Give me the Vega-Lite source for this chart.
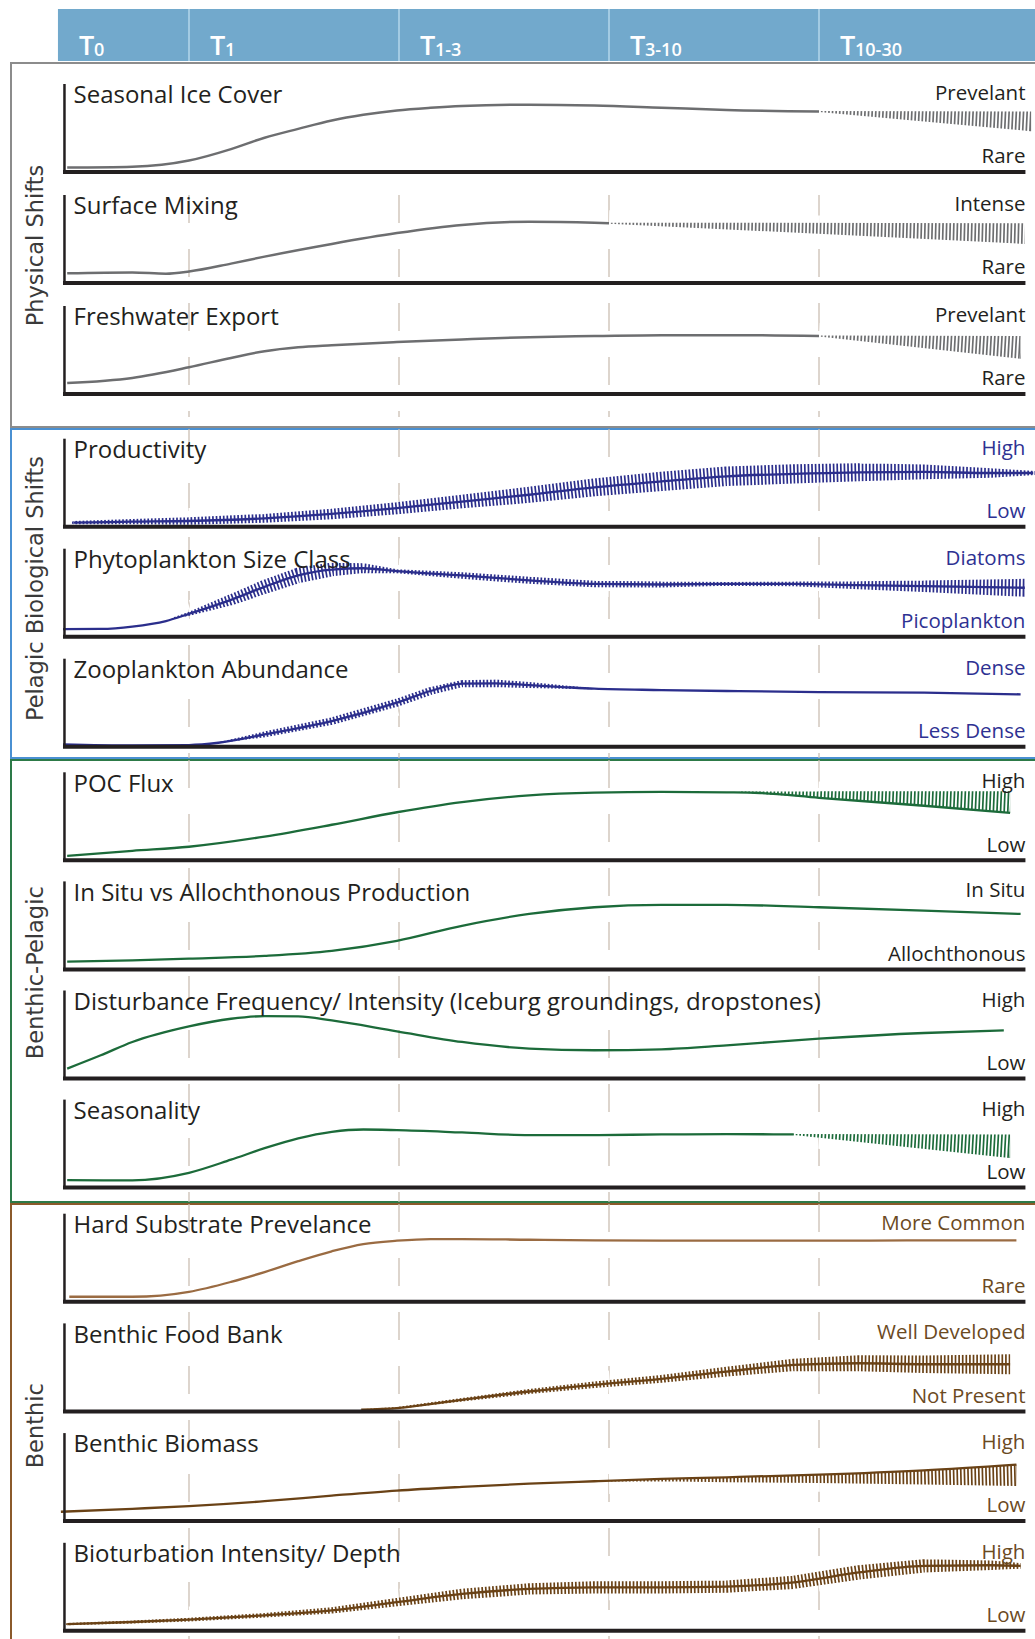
{
"$schema": "https://vega.github.io/schema/vega-lite/v6.json",
"padding": {"left": 10, "top": 8, "right": 0, "bottom": 0},
"background": "white",
"spacing": 2,
"bounds": "flush",
"config": {"view": {"stroke": null}, "font": "Open Sans"},
"resolve": {"scale": {"y": "independent"}},
"datasets": {
"periods": [{"p":"T","sub":"0","start":0.376,"end":1},{"p":"T","sub":"1","start":1,"end":2},{"p":"T","sub":"1-3","start":2,"end":3},{"p":"T","sub":"3-10","start":3,"end":4},{"p":"T","sub":"10-30","start":4,"end":5.06}],
"guides": [{"t":1},{"t":2},{"t":3},{"t":4}],
"labels": [
{"row":"ice","title":"Seasonal Ice Cover","hi":"Prevelant","lo":"Rare"},
{"row":"mix","title":"Surface Mixing","hi":"Intense","lo":"Rare"},
{"row":"fw","title":"Freshwater Export","hi":"Prevelant","lo":"Rare"},
{"row":"prod","title":"Productivity","hi":"High","lo":"Low"},
{"row":"phyto","title":"Phytoplankton Size Class","hi":"Diatoms","lo":"Picoplankton"},
{"row":"zoo","title":"Zooplankton Abundance","hi":"Dense","lo":"Less Dense"},
{"row":"poc","title":"POC Flux","hi":"High","lo":"Low"},
{"row":"insitu","title":"In Situ vs  Allochthonous Production","hi":"In Situ","lo":"Allochthonous"},
{"row":"dist","title":"Disturbance Frequency/ Intensity (Iceburg groundings, dropstones)","hi":"High","lo":"Low"},
{"row":"seas","title":"Seasonality","hi":"High","lo":"Low"},
{"row":"hard","title":"Hard Substrate Prevelance","hi":"More Common","lo":"Rare"},
{"row":"food","title":"Benthic Food Bank","hi":"Well Developed","lo":"Not Present"},
{"row":"biomass","title":"Benthic Biomass","hi":"High","lo":"Low"},
{"row":"biot","title":"Bioturbation Intensity/ Depth","hi":"High","lo":"Low"}
],
"sections": [
{"section":"Physical Shifts","row":"mix","v":0.426},
{"section":"Pelagic Biological Shifts","row":"phyto","v":0.548},
{"section":"Benthic-Pelagic","row":"insitu","v":-0.0375},
{"section":"Benthic","row":"food","v":-0.1625}
],
"frame": [
{"row":"ice","v":0},{"row":"ice","v":1},{"row":"mix","v":0},{"row":"mix","v":1},{"row":"fw","v":0},{"row":"fw","v":1},
{"row":"prod","v":0},{"row":"prod","v":1},{"row":"phyto","v":0},{"row":"phyto","v":1},{"row":"zoo","v":0},{"row":"zoo","v":1},
{"row":"poc","v":0},{"row":"poc","v":1},{"row":"insitu","v":0},{"row":"insitu","v":1},{"row":"dist","v":0},{"row":"dist","v":1},{"row":"seas","v":0},{"row":"seas","v":1},
{"row":"hard","v":0},{"row":"hard","v":1},{"row":"food","v":0},{"row":"food","v":1},{"row":"biomass","v":0},{"row":"biomass","v":1},{"row":"biot","v":0},{"row":"biot","v":1}
],
"curves": [
{"row":"ice","t":0.42,"v":0.05},{"row":"ice","t":0.73,"v":0.06},{"row":"ice","t":1.0,"v":0.13},{"row":"ice","t":1.2,"v":0.26},{"row":"ice","t":1.36,"v":0.39},{"row":"ice","t":1.52,"v":0.49},{"row":"ice","t":1.68,"v":0.585},{"row":"ice","t":1.83,"v":0.65},{"row":"ice","t":1.99,"v":0.70},{"row":"ice","t":2.15,"v":0.73},{"row":"ice","t":2.3,"v":0.75},{"row":"ice","t":2.62,"v":0.765},{"row":"ice","t":2.93,"v":0.755},{"row":"ice","t":3.25,"v":0.73},{"row":"ice","t":3.56,"v":0.705},{"row":"ice","t":4.0,"v":0.687},
{"row":"mix","t":0.42,"v":0.11},{"row":"mix","t":0.73,"v":0.12},{"row":"mix","t":0.89,"v":0.105},{"row":"mix","t":1.0,"v":0.13},{"row":"mix","t":1.2,"v":0.22},{"row":"mix","t":1.36,"v":0.30},{"row":"mix","t":1.68,"v":0.444},{"row":"mix","t":1.99,"v":0.567},{"row":"mix","t":2.3,"v":0.66},{"row":"mix","t":2.62,"v":0.696},{"row":"mix","t":2.93,"v":0.685},{"row":"mix","t":3.0,"v":0.68},
{"row":"fw","t":0.42,"v":0.125},{"row":"fw","t":0.73,"v":0.183},{"row":"fw","t":1.0,"v":0.304},{"row":"fw","t":1.2,"v":0.41},{"row":"fw","t":1.36,"v":0.487},{"row":"fw","t":1.52,"v":0.532},{"row":"fw","t":1.68,"v":0.555},{"row":"fw","t":1.99,"v":0.59},{"row":"fw","t":2.3,"v":0.62},{"row":"fw","t":2.62,"v":0.646},{"row":"fw","t":2.93,"v":0.658},{"row":"fw","t":3.25,"v":0.669},{"row":"fw","t":3.56,"v":0.669},{"row":"fw","t":4.0,"v":0.658},
{"row":"prod","t":0.45,"v":0.046},{"row":"prod","t":0.73,"v":0.057},{"row":"prod","t":1.0,"v":0.065},{"row":"prod","t":1.36,"v":0.095},{"row":"prod","t":1.68,"v":0.145},{"row":"prod","t":1.99,"v":0.21},{"row":"prod","t":2.3,"v":0.286},{"row":"prod","t":2.62,"v":0.363},{"row":"prod","t":2.93,"v":0.447},{"row":"prod","t":3.25,"v":0.515},{"row":"prod","t":3.56,"v":0.573},{"row":"prod","t":3.88,"v":0.60},{"row":"prod","t":4.19,"v":0.618},{"row":"prod","t":4.5,"v":0.622},{"row":"prod","t":4.82,"v":0.61},{"row":"prod","t":5.02,"v":0.61},
{"row":"phyto","t":0.40,"v":0.085},{"row":"phyto","t":0.58,"v":0.088},{"row":"phyto","t":0.73,"v":0.115},{"row":"phyto","t":0.89,"v":0.178},{"row":"phyto","t":1.0,"v":0.26},{"row":"phyto","t":1.2,"v":0.419},{"row":"phyto","t":1.36,"v":0.567},{"row":"phyto","t":1.52,"v":0.696},{"row":"phyto","t":1.68,"v":0.763},{"row":"phyto","t":1.83,"v":0.778},{"row":"phyto","t":1.99,"v":0.744},{"row":"phyto","t":2.3,"v":0.696},{"row":"phyto","t":2.62,"v":0.641},{"row":"phyto","t":2.93,"v":0.60},{"row":"phyto","t":3.25,"v":0.593},{"row":"phyto","t":3.56,"v":0.60},{"row":"phyto","t":3.88,"v":0.60},{"row":"phyto","t":4.19,"v":0.585},{"row":"phyto","t":4.5,"v":0.574},{"row":"phyto","t":4.98,"v":0.556},
{"row":"zoo","t":0.40,"v":0.027},{"row":"zoo","t":0.73,"v":0.015},{"row":"zoo","t":1.0,"v":0.019},{"row":"zoo","t":1.14,"v":0.045},{"row":"zoo","t":1.36,"v":0.14},{"row":"zoo","t":1.68,"v":0.29},{"row":"zoo","t":1.99,"v":0.5},{"row":"zoo","t":2.15,"v":0.633},{"row":"zoo","t":2.3,"v":0.716},{"row":"zoo","t":2.46,"v":0.72},{"row":"zoo","t":2.62,"v":0.70},{"row":"zoo","t":2.78,"v":0.678},{"row":"zoo","t":2.93,"v":0.659},{"row":"zoo","t":3.25,"v":0.644},{"row":"zoo","t":3.56,"v":0.633},{"row":"zoo","t":4.0,"v":0.621},{"row":"zoo","t":4.5,"v":0.614},{"row":"zoo","t":4.96,"v":0.595},
{"row":"poc","t":0.42,"v":0.05},{"row":"poc","t":0.73,"v":0.108},{"row":"poc","t":1.0,"v":0.154},{"row":"poc","t":1.36,"v":0.269},{"row":"poc","t":1.68,"v":0.404},{"row":"poc","t":1.99,"v":0.546},{"row":"poc","t":2.3,"v":0.662},{"row":"poc","t":2.62,"v":0.738},{"row":"poc","t":2.93,"v":0.769},{"row":"poc","t":3.25,"v":0.777},{"row":"poc","t":3.56,"v":0.772},{"row":"poc","t":3.72,"v":0.765},{"row":"poc","t":4.0,"v":0.71},{"row":"poc","t":4.5,"v":0.62},{"row":"poc","t":4.91,"v":0.538},
{"row":"insitu","t":0.42,"v":0.088},{"row":"insitu","t":0.73,"v":0.103},{"row":"insitu","t":1.0,"v":0.122},{"row":"insitu","t":1.36,"v":0.153},{"row":"insitu","t":1.68,"v":0.21},{"row":"insitu","t":1.99,"v":0.324},{"row":"insitu","t":2.3,"v":0.496},{"row":"insitu","t":2.62,"v":0.63},{"row":"insitu","t":2.93,"v":0.706},{"row":"insitu","t":3.25,"v":0.733},{"row":"insitu","t":3.56,"v":0.733},{"row":"insitu","t":4.0,"v":0.706},{"row":"insitu","t":4.5,"v":0.668},{"row":"insitu","t":4.96,"v":0.63},
{"row":"dist","t":0.42,"v":0.113},{"row":"dist","t":0.58,"v":0.264},{"row":"dist","t":0.73,"v":0.415},{"row":"dist","t":1.0,"v":0.592},{"row":"dist","t":1.2,"v":0.679},{"row":"dist","t":1.36,"v":0.709},{"row":"dist","t":1.52,"v":0.706},{"row":"dist","t":1.68,"v":0.66},{"row":"dist","t":1.99,"v":0.536},{"row":"dist","t":2.3,"v":0.415},{"row":"dist","t":2.62,"v":0.34},{"row":"dist","t":2.93,"v":0.321},{"row":"dist","t":3.25,"v":0.332},{"row":"dist","t":3.56,"v":0.377},{"row":"dist","t":4.0,"v":0.453},{"row":"dist","t":4.5,"v":0.517},{"row":"dist","t":4.88,"v":0.547},
{"row":"seas","t":0.42,"v":0.086},{"row":"seas","t":0.73,"v":0.082},{"row":"seas","t":1.0,"v":0.168},{"row":"seas","t":1.2,"v":0.317},{"row":"seas","t":1.36,"v":0.448},{"row":"seas","t":1.52,"v":0.56},{"row":"seas","t":1.68,"v":0.634},{"row":"seas","t":1.83,"v":0.66},{"row":"seas","t":1.99,"v":0.653},{"row":"seas","t":2.3,"v":0.627},{"row":"seas","t":2.62,"v":0.597},{"row":"seas","t":2.93,"v":0.597},{"row":"seas","t":3.25,"v":0.604},{"row":"seas","t":3.56,"v":0.608},{"row":"seas","t":3.88,"v":0.604},
{"row":"hard","t":0.43,"v":0.056},{"row":"hard","t":0.73,"v":0.056},{"row":"hard","t":1.0,"v":0.112},{"row":"hard","t":1.2,"v":0.225},{"row":"hard","t":1.36,"v":0.337},{"row":"hard","t":1.52,"v":0.461},{"row":"hard","t":1.68,"v":0.573},{"row":"hard","t":1.83,"v":0.655},{"row":"hard","t":1.99,"v":0.693},{"row":"hard","t":2.15,"v":0.712},{"row":"hard","t":2.3,"v":0.712},{"row":"hard","t":2.62,"v":0.704},{"row":"hard","t":2.93,"v":0.697},{"row":"hard","t":3.25,"v":0.693},{"row":"hard","t":3.56,"v":0.693},{"row":"hard","t":4.0,"v":0.693},{"row":"hard","t":4.5,"v":0.697},{"row":"hard","t":4.94,"v":0.697},
{"row":"food","t":1.82,"v":0.019},{"row":"food","t":1.99,"v":0.038},{"row":"food","t":2.3,"v":0.132},{"row":"food","t":2.62,"v":0.226},{"row":"food","t":2.93,"v":0.302},{"row":"food","t":3.25,"v":0.37},{"row":"food","t":3.56,"v":0.453},{"row":"food","t":3.88,"v":0.528},{"row":"food","t":4.19,"v":0.547},{"row":"food","t":4.5,"v":0.536},{"row":"food","t":4.91,"v":0.536},
{"row":"biomass","t":0.39,"v":0.106},{"row":"biomass","t":0.73,"v":0.14},{"row":"biomass","t":1.0,"v":0.17},{"row":"biomass","t":1.36,"v":0.226},{"row":"biomass","t":1.68,"v":0.29},{"row":"biomass","t":1.99,"v":0.347},{"row":"biomass","t":2.3,"v":0.389},{"row":"biomass","t":2.62,"v":0.426},{"row":"biomass","t":2.93,"v":0.453},{"row":"biomass","t":3.25,"v":0.479},{"row":"biomass","t":3.56,"v":0.498},{"row":"biomass","t":4.0,"v":0.528},{"row":"biomass","t":4.5,"v":0.577},{"row":"biomass","t":4.94,"v":0.642},
{"row":"biot","t":0.42,"v":0.075},{"row":"biot","t":0.73,"v":0.10},{"row":"biot","t":1.0,"v":0.127},{"row":"biot","t":1.36,"v":0.176},{"row":"biot","t":1.68,"v":0.232},{"row":"biot","t":1.99,"v":0.326},{"row":"biot","t":2.3,"v":0.419},{"row":"biot","t":2.62,"v":0.476},{"row":"biot","t":2.93,"v":0.494},{"row":"biot","t":3.25,"v":0.494},{"row":"biot","t":3.56,"v":0.502},{"row":"biot","t":3.88,"v":0.551},{"row":"biot","t":4.19,"v":0.663},{"row":"biot","t":4.5,"v":0.738},{"row":"biot","t":4.82,"v":0.745},{"row":"biot","t":4.96,"v":0.738}
],
"bands": [
{"row":"ice","t":4.0,"m":0.687,"w":0},{"row":"ice","t":5.01,"m":0.5755,"w":0.223},
{"row":"mix","t":3.0,"m":0.68,"w":0},{"row":"mix","t":4.98,"m":0.562,"w":0.236},
{"row":"fw","t":4.0,"m":0.658,"w":0},{"row":"fw","t":4.96,"m":0.529,"w":0.258},
{"row":"prod","t":0.45,"m":0.046,"w":0.035},{"row":"prod","t":0.73,"m":0.057,"w":0.06},{"row":"prod","t":1.0,"m":0.065,"w":0.083},{"row":"prod","t":1.36,"m":0.095,"w":0.1},{"row":"prod","t":1.68,"m":0.145,"w":0.12},{"row":"prod","t":1.99,"m":0.21,"w":0.138},{"row":"prod","t":2.3,"m":0.286,"w":0.156},{"row":"prod","t":2.62,"m":0.363,"w":0.184},{"row":"prod","t":2.93,"m":0.447,"w":0.204},{"row":"prod","t":3.25,"m":0.515,"w":0.22},{"row":"prod","t":3.56,"m":0.573,"w":0.222},{"row":"prod","t":3.88,"m":0.60,"w":0.22},{"row":"prod","t":4.19,"m":0.618,"w":0.204},{"row":"prod","t":4.5,"m":0.622,"w":0.168},{"row":"prod","t":4.82,"m":0.61,"w":0.108},{"row":"prod","t":5.03,"m":0.61,"w":0.045},
{"row":"phyto","t":0.92,"m":0.21,"w":0},{"row":"phyto","t":1.0,"m":0.26,"w":0.045},{"row":"phyto","t":1.2,"m":0.419,"w":0.125},{"row":"phyto","t":1.36,"m":0.567,"w":0.16},{"row":"phyto","t":1.52,"m":0.696,"w":0.175},{"row":"phyto","t":1.68,"m":0.763,"w":0.155},{"row":"phyto","t":1.83,"m":0.778,"w":0.111},{"row":"phyto","t":1.99,"m":0.744,"w":0.044},{"row":"phyto","t":2.3,"m":0.696,"w":0.074},{"row":"phyto","t":2.62,"m":0.641,"w":0.081},{"row":"phyto","t":2.93,"m":0.60,"w":0.074},{"row":"phyto","t":3.25,"m":0.593,"w":0.067},{"row":"phyto","t":3.56,"m":0.60,"w":0.044},{"row":"phyto","t":3.88,"m":0.60,"w":0.056},{"row":"phyto","t":4.19,"m":0.585,"w":0.093},{"row":"phyto","t":4.5,"m":0.574,"w":0.13},{"row":"phyto","t":4.98,"m":0.556,"w":0.204},
{"row":"zoo","t":1.14,"m":0.045,"w":0},{"row":"zoo","t":1.36,"m":0.14,"w":0.065},{"row":"zoo","t":1.68,"m":0.29,"w":0.085},{"row":"zoo","t":1.99,"m":0.5,"w":0.092},{"row":"zoo","t":2.15,"m":0.633,"w":0.09},{"row":"zoo","t":2.3,"m":0.716,"w":0.08},{"row":"zoo","t":2.46,"m":0.72,"w":0.085},{"row":"zoo","t":2.62,"m":0.70,"w":0.068},{"row":"zoo","t":2.78,"m":0.678,"w":0.038},{"row":"zoo","t":2.93,"m":0.659,"w":0},
{"row":"poc","t":3.62,"m":0.775,"w":0},{"row":"poc","t":4.0,"m":0.7475,"w":0.075},{"row":"poc","t":4.5,"m":0.7025,"w":0.165},{"row":"poc","t":4.91,"m":0.6615,"w":0.247},
{"row":"seas","t":3.88,"m":0.604,"w":0},{"row":"seas","t":4.91,"m":0.47,"w":0.268},
{"row":"food","t":1.82,"m":0.019,"w":0},{"row":"food","t":1.99,"m":0.038,"w":0.022},{"row":"food","t":2.3,"m":0.132,"w":0.042},{"row":"food","t":2.62,"m":0.226,"w":0.058},{"row":"food","t":2.93,"m":0.302,"w":0.075},{"row":"food","t":3.25,"m":0.37,"w":0.09},{"row":"food","t":3.56,"m":0.453,"w":0.112},{"row":"food","t":3.88,"m":0.528,"w":0.14},{"row":"food","t":4.19,"m":0.547,"w":0.18},{"row":"food","t":4.5,"m":0.536,"w":0.2},{"row":"food","t":4.91,"m":0.536,"w":0.226},
{"row":"biomass","t":3.0,"m":0.455,"w":0},{"row":"biomass","t":3.25,"m":0.4655,"w":0.027},{"row":"biomass","t":3.56,"m":0.47,"w":0.056},{"row":"biomass","t":4.0,"m":0.481,"w":0.094},{"row":"biomass","t":4.5,"m":0.496,"w":0.162},{"row":"biomass","t":4.94,"m":0.521,"w":0.242},
{"row":"biot","t":0.42,"m":0.075,"w":0.026},{"row":"biot","t":0.73,"m":0.10,"w":0.035},{"row":"biot","t":1.0,"m":0.127,"w":0.043},{"row":"biot","t":1.36,"m":0.176,"w":0.052},{"row":"biot","t":1.68,"m":0.232,"w":0.07},{"row":"biot","t":1.99,"m":0.326,"w":0.095},{"row":"biot","t":2.3,"m":0.419,"w":0.12},{"row":"biot","t":2.62,"m":0.476,"w":0.128},{"row":"biot","t":2.93,"m":0.494,"w":0.138},{"row":"biot","t":3.25,"m":0.494,"w":0.138},{"row":"biot","t":3.56,"m":0.502,"w":0.138},{"row":"biot","t":3.88,"m":0.551,"w":0.15},{"row":"biot","t":4.19,"m":0.663,"w":0.163},{"row":"biot","t":4.5,"m":0.738,"w":0.15},{"row":"biot","t":4.82,"m":0.745,"w":0.108},{"row":"biot","t":4.96,"m":0.738,"w":0.064}
]
},
"vconcat": [
{
"width": 1030, "height": 52,
"layer": [
{"data": {"name": "periods"}, "mark": {"type": "rect", "color": "#72a9cc"}, "encoding": {"x": {"field": "start", "type": "quantitative", "scale": {"domain": [0.1524, 5.0571], "nice": false, "zero": false}, "axis": null}, "x2": {"field": "end"}}},
{"data": {"name": "guides"}, "mark": {"type": "rule", "color": "#a3cbe3", "strokeWidth": 2}, "encoding": {"x": {"field": "t", "type": "quantitative", "scale": {"domain": [0.1524, 5.0571], "nice": false, "zero": false}, "axis": null}}},
{"data": {"name": "periods"}, "mark": {"type": "text", "align": "left", "baseline": "alphabetic", "dx": 21, "dy": 20, "fontSize": 27, "fontWeight": 600, "color": "white", "font": "Open Sans"}, "encoding": {"x": {"field": "start", "type": "quantitative", "scale": {"domain": [0.1524, 5.0571], "nice": false, "zero": false}, "axis": null}, "text": {"field": "p"}}},
{"data": {"name": "periods"}, "mark": {"type": "text", "align": "left", "baseline": "alphabetic", "dx": 36, "dy": 21, "fontSize": 18, "fontWeight": 600, "color": "white", "font": "Open Sans"}, "encoding": {"x": {"field": "start", "type": "quantitative", "scale": {"domain": [0.1524, 5.0571], "nice": false, "zero": false}, "axis": null}, "text": {"field": "sub"}}}
]
},
{
"width": 1030, "height": 364,
"view": {"stroke": "#8c8c8c", "strokeWidth": 2},
"layer": [
{"data": {"name": "guides"}, "mark": {"type": "rule", "color": "#cbbfb3", "strokeWidth": 1.3, "strokeDash": [28, 26]}, "encoding": {"x": {"field": "t", "type": "quantitative", "scale": {"domain": [0.1524, 5.0571], "nice": false, "zero": false}, "axis": null}, "y": {"datum": "mix", "type": "nominal", "bandPosition": 0, "scale": {"domain": ["ice","mix","fw"], "range": [21, 354], "paddingInner": 0, "paddingOuter": 0}, "axis": null}, "y2": {"datum": "fw", "bandPosition": 1}}},
{"data": {"name": "bands"}, "transform": [{"filter": {"field": "row", "oneOf": ["ice","mix","fw"]}}], "mark": {"type": "trail"}, "encoding": {"x": {"field": "t", "type": "quantitative", "scale": {"domain": [0.1524, 5.0571], "nice": false, "zero": false}, "axis": null}, "y": {"field": "row", "type": "nominal", "bandPosition": 0, "scale": {"domain": ["ice","mix","fw"], "range": [21, 354], "paddingInner": 0, "paddingOuter": 0}, "axis": null}, "yOffset": {"field": "m", "type": "quantitative", "scale": {"domain": [0, 1], "range": [88, 0]}}, "size": {"field": "w", "type": "quantitative", "scale": {"domain": [0, 1], "range": [0, 88]}, "legend": null}, "color": {"field": "row", "type": "nominal", "scale": {"domain": ["ice","mix","fw","prod","phyto","zoo","poc","insitu","dist","seas","hard","food","biomass","biot"], "range": ["#6d6e70","#6d6e70","#6d6e70","#2b2e8c","#2b2e8c","#2b2e8c","#1c6b3a","#1c6b3a","#1c6b3a","#1c6b3a","#9a6b42","#6a4216","#6a4216","#6a4216"]}, "legend": null}, "detail": {"field": "row"}, "order": {"field": "t", "type": "quantitative"}}},
{"data": {"name": "bands"}, "transform": [{"filter": {"field": "row", "oneOf": ["ice","mix","fw"]}}], "mark": {"type": "line", "color": "white", "strokeWidth": 26, "strokeDash": [1.9, 1.7], "strokeCap": "butt"}, "encoding": {"x": {"field": "t", "type": "quantitative", "scale": {"domain": [0.1524, 5.0571], "nice": false, "zero": false}, "axis": null}, "y": {"field": "row", "type": "nominal", "bandPosition": 0, "scale": {"domain": ["ice","mix","fw"], "range": [21, 354], "paddingInner": 0, "paddingOuter": 0}, "axis": null}, "yOffset": {"field": "m", "type": "quantitative", "scale": {"domain": [0, 1], "range": [88, 0]}}, "detail": {"field": "row"}, "order": {"field": "t", "type": "quantitative"}}},
{"data": {"name": "bands"}, "transform": [{"filter": {"field": "row", "oneOf": ["ice","mix","fw"]}}, {"joinaggregate": [{"op": "max", "field": "t", "as": "tmax"}], "groupby": ["row"]}, {"filter": "datum.t === datum.tmax"}], "mark": {"type": "point", "shape": "M0,-1H2V1H0Z", "size": 676, "filled": true, "color": "white", "opacity": 1, "strokeWidth": 0}, "encoding": {"x": {"field": "t", "type": "quantitative", "scale": {"domain": [0.1524, 5.0571], "nice": false, "zero": false}, "axis": null}, "y": {"field": "row", "type": "nominal", "bandPosition": 0, "scale": {"domain": ["ice","mix","fw"], "range": [21, 354], "paddingInner": 0, "paddingOuter": 0}, "axis": null}, "yOffset": {"field": "m", "type": "quantitative", "scale": {"domain": [0, 1], "range": [88, 0]}}}},
{"data": {"name": "curves"}, "transform": [{"filter": {"field": "row", "oneOf": ["ice","mix","fw"]}}], "mark": {"type": "line", "strokeWidth": 2.5, "interpolate": "monotone"}, "encoding": {"x": {"field": "t", "type": "quantitative", "scale": {"domain": [0.1524, 5.0571], "nice": false, "zero": false}, "axis": null}, "y": {"field": "row", "type": "nominal", "bandPosition": 0, "scale": {"domain": ["ice","mix","fw"], "range": [21, 354], "paddingInner": 0, "paddingOuter": 0}, "axis": null}, "yOffset": {"field": "v", "type": "quantitative", "scale": {"domain": [0, 1], "range": [88, 0]}}, "color": {"field": "row", "type": "nominal", "scale": {"domain": ["ice","mix","fw","prod","phyto","zoo","poc","insitu","dist","seas","hard","food","biomass","biot"], "range": ["#6d6e70","#6d6e70","#6d6e70","#2b2e8c","#2b2e8c","#2b2e8c","#1c6b3a","#1c6b3a","#1c6b3a","#1c6b3a","#9a6b42","#6a4216","#6a4216","#6a4216"]}, "legend": null}, "detail": {"field": "row"}, "order": {"field": "t", "type": "quantitative"}}},
{"data": {"name": "frame"}, "transform": [{"filter": {"field": "row", "oneOf": ["ice","mix","fw"]}}], "mark": {"type": "line", "color": "#231f20", "strokeWidth": 2.5}, "encoding": {"x": {"datum": 0.407, "type": "quantitative", "scale": {"domain": [0.1524, 5.0571], "nice": false, "zero": false}, "axis": null}, "y": {"field": "row", "type": "nominal", "bandPosition": 0, "scale": {"domain": ["ice","mix","fw"], "range": [21, 354], "paddingInner": 0, "paddingOuter": 0}, "axis": null}, "yOffset": {"field": "v", "type": "quantitative", "scale": {"domain": [0, 1], "range": [88, 0]}}, "detail": {"field": "row"}}},
{"data": {"name": "labels"}, "transform": [{"filter": {"field": "row", "oneOf": ["ice","mix","fw"]}}], "mark": {"type": "rule", "color": "#231f20", "strokeWidth": 4}, "encoding": {"x": {"datum": 0.40, "type": "quantitative", "scale": {"domain": [0.1524, 5.0571], "nice": false, "zero": false}, "axis": null}, "x2": {"datum": 4.983}, "y": {"field": "row", "type": "nominal", "bandPosition": 0, "scale": {"domain": ["ice","mix","fw"], "range": [21, 354], "paddingInner": 0, "paddingOuter": 0}, "axis": null}, "yOffset": {"datum": 0, "type": "quantitative", "scale": {"domain": [0, 1], "range": [88, 0]}}}},
{"data": {"name": "labels"}, "transform": [{"filter": {"field": "row", "oneOf": ["ice","mix","fw"]}}], "mark": {"type": "text", "align": "left", "baseline": "alphabetic", "fontSize": 24, "color": "#231f20"}, "encoding": {"x": {"datum": 0.45, "type": "quantitative", "scale": {"domain": [0.1524, 5.0571], "nice": false, "zero": false}, "axis": null}, "y": {"field": "row", "type": "nominal", "bandPosition": 0, "scale": {"domain": ["ice","mix","fw"], "range": [21, 354], "paddingInner": 0, "paddingOuter": 0}, "axis": null}, "yOffset": {"datum": 0.78, "type": "quantitative", "scale": {"domain": [0, 1], "range": [88, 0]}}, "text": {"field": "title"}}},
{"data": {"name": "labels"}, "transform": [{"filter": {"field": "row", "oneOf": ["ice","mix","fw"]}}], "mark": {"type": "text", "align": "right", "baseline": "alphabetic", "fontSize": 20.5, "color": "#231f20"}, "encoding": {"x": {"datum": 4.983, "type": "quantitative", "scale": {"domain": [0.1524, 5.0571], "nice": false, "zero": false}, "axis": null}, "y": {"field": "row", "type": "nominal", "bandPosition": 0, "scale": {"domain": ["ice","mix","fw"], "range": [21, 354], "paddingInner": 0, "paddingOuter": 0}, "axis": null}, "yOffset": {"datum": 0.818, "type": "quantitative", "scale": {"domain": [0, 1], "range": [88, 0]}}, "text": {"field": "hi"}}},
{"data": {"name": "labels"}, "transform": [{"filter": {"field": "row", "oneOf": ["ice","mix","fw"]}}], "mark": {"type": "text", "align": "right", "baseline": "alphabetic", "fontSize": 20.5, "color": "#231f20"}, "encoding": {"x": {"datum": 4.983, "type": "quantitative", "scale": {"domain": [0.1524, 5.0571], "nice": false, "zero": false}, "axis": null}, "y": {"field": "row", "type": "nominal", "bandPosition": 0, "scale": {"domain": ["ice","mix","fw"], "range": [21, 354], "paddingInner": 0, "paddingOuter": 0}, "axis": null}, "yOffset": {"datum": 0.10, "type": "quantitative", "scale": {"domain": [0, 1], "range": [88, 0]}}, "text": {"field": "lo"}}},
{"data": {"name": "sections"}, "transform": [{"filter": {"field": "row", "oneOf": ["ice","mix","fw"]}}], "mark": {"type": "text", "align": "center", "baseline": "middle", "angle": 270, "fontSize": 22.5, "font": "DejaVu Sans", "color": "#3a3a3a"}, "encoding": {"x": {"datum": 0.2714, "type": "quantitative", "scale": {"domain": [0.1524, 5.0571], "nice": false, "zero": false}, "axis": null}, "y": {"field": "row", "type": "nominal", "bandPosition": 0, "scale": {"domain": ["ice","mix","fw"], "range": [21, 354], "paddingInner": 0, "paddingOuter": 0}, "axis": null}, "yOffset": {"field": "v", "type": "quantitative", "scale": {"domain": [0, 1], "range": [88, 0]}}, "text": {"field": "section"}}}
]
},
{
"width": 1030, "height": 329,
"view": {"stroke": "#4a90d2", "strokeWidth": 2},
"layer": [
{"data": {"name": "guides"}, "mark": {"type": "rule", "color": "#cbbfb3", "strokeWidth": 1.3, "strokeDash": [28, 26]}, "encoding": {"x": {"field": "t", "type": "quantitative", "scale": {"domain": [0.1524, 5.0571], "nice": false, "zero": false}, "axis": null}}},
{"data": {"name": "bands"}, "transform": [{"filter": {"field": "row", "oneOf": ["prod","phyto","zoo"]}}], "mark": {"type": "trail"}, "encoding": {"x": {"field": "t", "type": "quantitative", "scale": {"domain": [0.1524, 5.0571], "nice": false, "zero": false}, "axis": null}, "y": {"field": "row", "type": "nominal", "bandPosition": 0, "scale": {"domain": ["prod","phyto","zoo"], "range": [9.7, 339.7], "paddingInner": 0, "paddingOuter": 0}, "axis": null}, "yOffset": {"field": "m", "type": "quantitative", "scale": {"domain": [0, 1], "range": [88, 0]}}, "size": {"field": "w", "type": "quantitative", "scale": {"domain": [0, 1], "range": [0, 88]}, "legend": null}, "color": {"field": "row", "type": "nominal", "scale": {"domain": ["ice","mix","fw","prod","phyto","zoo","poc","insitu","dist","seas","hard","food","biomass","biot"], "range": ["#6d6e70","#6d6e70","#6d6e70","#2b2e8c","#2b2e8c","#2b2e8c","#1c6b3a","#1c6b3a","#1c6b3a","#1c6b3a","#9a6b42","#6a4216","#6a4216","#6a4216"]}, "legend": null}, "detail": {"field": "row"}, "order": {"field": "t", "type": "quantitative"}}},
{"data": {"name": "bands"}, "transform": [{"filter": {"field": "row", "oneOf": ["prod","phyto","zoo"]}}], "mark": {"type": "line", "color": "white", "strokeWidth": 26, "strokeDash": [1.9, 1.7], "strokeCap": "butt"}, "encoding": {"x": {"field": "t", "type": "quantitative", "scale": {"domain": [0.1524, 5.0571], "nice": false, "zero": false}, "axis": null}, "y": {"field": "row", "type": "nominal", "bandPosition": 0, "scale": {"domain": ["prod","phyto","zoo"], "range": [9.7, 339.7], "paddingInner": 0, "paddingOuter": 0}, "axis": null}, "yOffset": {"field": "m", "type": "quantitative", "scale": {"domain": [0, 1], "range": [88, 0]}}, "detail": {"field": "row"}, "order": {"field": "t", "type": "quantitative"}}},
{"data": {"name": "bands"}, "transform": [{"filter": {"field": "row", "oneOf": ["prod","phyto","zoo"]}}, {"joinaggregate": [{"op": "max", "field": "t", "as": "tmax"}], "groupby": ["row"]}, {"filter": "datum.t === datum.tmax"}], "mark": {"type": "point", "shape": "M0,-1H2V1H0Z", "size": 676, "filled": true, "color": "white", "opacity": 1, "strokeWidth": 0}, "encoding": {"x": {"field": "t", "type": "quantitative", "scale": {"domain": [0.1524, 5.0571], "nice": false, "zero": false}, "axis": null}, "y": {"field": "row", "type": "nominal", "bandPosition": 0, "scale": {"domain": ["prod","phyto","zoo"], "range": [9.7, 339.7], "paddingInner": 0, "paddingOuter": 0}, "axis": null}, "yOffset": {"field": "m", "type": "quantitative", "scale": {"domain": [0, 1], "range": [88, 0]}}}},
{"data": {"name": "curves"}, "transform": [{"filter": {"field": "row", "oneOf": ["prod","phyto","zoo"]}}], "mark": {"type": "line", "strokeWidth": 2.3, "interpolate": "monotone"}, "encoding": {"x": {"field": "t", "type": "quantitative", "scale": {"domain": [0.1524, 5.0571], "nice": false, "zero": false}, "axis": null}, "y": {"field": "row", "type": "nominal", "bandPosition": 0, "scale": {"domain": ["prod","phyto","zoo"], "range": [9.7, 339.7], "paddingInner": 0, "paddingOuter": 0}, "axis": null}, "yOffset": {"field": "v", "type": "quantitative", "scale": {"domain": [0, 1], "range": [88, 0]}}, "color": {"field": "row", "type": "nominal", "scale": {"domain": ["ice","mix","fw","prod","phyto","zoo","poc","insitu","dist","seas","hard","food","biomass","biot"], "range": ["#6d6e70","#6d6e70","#6d6e70","#2b2e8c","#2b2e8c","#2b2e8c","#1c6b3a","#1c6b3a","#1c6b3a","#1c6b3a","#9a6b42","#6a4216","#6a4216","#6a4216"]}, "legend": null}, "detail": {"field": "row"}, "order": {"field": "t", "type": "quantitative"}}},
{"data": {"name": "frame"}, "transform": [{"filter": {"field": "row", "oneOf": ["prod","phyto","zoo"]}}], "mark": {"type": "line", "color": "#231f20", "strokeWidth": 2.5}, "encoding": {"x": {"datum": 0.407, "type": "quantitative", "scale": {"domain": [0.1524, 5.0571], "nice": false, "zero": false}, "axis": null}, "y": {"field": "row", "type": "nominal", "bandPosition": 0, "scale": {"domain": ["prod","phyto","zoo"], "range": [9.7, 339.7], "paddingInner": 0, "paddingOuter": 0}, "axis": null}, "yOffset": {"field": "v", "type": "quantitative", "scale": {"domain": [0, 1], "range": [88, 0]}}, "detail": {"field": "row"}}},
{"data": {"name": "labels"}, "transform": [{"filter": {"field": "row", "oneOf": ["prod","phyto","zoo"]}}], "mark": {"type": "rule", "color": "#231f20", "strokeWidth": 4}, "encoding": {"x": {"datum": 0.40, "type": "quantitative", "scale": {"domain": [0.1524, 5.0571], "nice": false, "zero": false}, "axis": null}, "x2": {"datum": 4.983}, "y": {"field": "row", "type": "nominal", "bandPosition": 0, "scale": {"domain": ["prod","phyto","zoo"], "range": [9.7, 339.7], "paddingInner": 0, "paddingOuter": 0}, "axis": null}, "yOffset": {"datum": 0, "type": "quantitative", "scale": {"domain": [0, 1], "range": [88, 0]}}}},
{"data": {"name": "labels"}, "transform": [{"filter": {"field": "row", "oneOf": ["prod","phyto","zoo"]}}], "mark": {"type": "text", "align": "left", "baseline": "alphabetic", "fontSize": 24, "color": "#231f20"}, "encoding": {"x": {"datum": 0.45, "type": "quantitative", "scale": {"domain": [0.1524, 5.0571], "nice": false, "zero": false}, "axis": null}, "y": {"field": "row", "type": "nominal", "bandPosition": 0, "scale": {"domain": ["prod","phyto","zoo"], "range": [9.7, 339.7], "paddingInner": 0, "paddingOuter": 0}, "axis": null}, "yOffset": {"datum": 0.78, "type": "quantitative", "scale": {"domain": [0, 1], "range": [88, 0]}}, "text": {"field": "title"}}},
{"data": {"name": "labels"}, "transform": [{"filter": {"field": "row", "oneOf": ["prod","phyto","zoo"]}}], "mark": {"type": "text", "align": "right", "baseline": "alphabetic", "fontSize": 20.5, "color": "#2e3192"}, "encoding": {"x": {"datum": 4.983, "type": "quantitative", "scale": {"domain": [0.1524, 5.0571], "nice": false, "zero": false}, "axis": null}, "y": {"field": "row", "type": "nominal", "bandPosition": 0, "scale": {"domain": ["prod","phyto","zoo"], "range": [9.7, 339.7], "paddingInner": 0, "paddingOuter": 0}, "axis": null}, "yOffset": {"datum": 0.818, "type": "quantitative", "scale": {"domain": [0, 1], "range": [88, 0]}}, "text": {"field": "hi"}}},
{"data": {"name": "labels"}, "transform": [{"filter": {"field": "row", "oneOf": ["prod","phyto","zoo"]}}], "mark": {"type": "text", "align": "right", "baseline": "alphabetic", "fontSize": 20.5, "color": "#2e3192"}, "encoding": {"x": {"datum": 4.983, "type": "quantitative", "scale": {"domain": [0.1524, 5.0571], "nice": false, "zero": false}, "axis": null}, "y": {"field": "row", "type": "nominal", "bandPosition": 0, "scale": {"domain": ["prod","phyto","zoo"], "range": [9.7, 339.7], "paddingInner": 0, "paddingOuter": 0}, "axis": null}, "yOffset": {"datum": 0.10, "type": "quantitative", "scale": {"domain": [0, 1], "range": [88, 0]}}, "text": {"field": "lo"}}},
{"data": {"name": "sections"}, "transform": [{"filter": {"field": "row", "oneOf": ["prod","phyto","zoo"]}}], "mark": {"type": "text", "align": "center", "baseline": "middle", "angle": 270, "fontSize": 22.5, "font": "DejaVu Sans", "color": "#3a3a3a"}, "encoding": {"x": {"datum": 0.2714, "type": "quantitative", "scale": {"domain": [0.1524, 5.0571], "nice": false, "zero": false}, "axis": null}, "y": {"field": "row", "type": "nominal", "bandPosition": 0, "scale": {"domain": ["prod","phyto","zoo"], "range": [9.7, 339.7], "paddingInner": 0, "paddingOuter": 0}, "axis": null}, "yOffset": {"field": "v", "type": "quantitative", "scale": {"domain": [0, 1], "range": [88, 0]}}, "text": {"field": "section"}}}
]
},
{
"width": 1030, "height": 442,
"view": {"stroke": "#2d7a48", "strokeWidth": 2},
"layer": [
{"data": {"name": "guides"}, "mark": {"type": "rule", "color": "#cbbfb3", "strokeWidth": 1.3, "strokeDash": [28, 26]}, "encoding": {"x": {"field": "t", "type": "quantitative", "scale": {"domain": [0.1524, 5.0571], "nice": false, "zero": false}, "axis": null}}},
{"data": {"name": "bands"}, "transform": [{"filter": {"field": "row", "oneOf": ["poc","insitu","dist","seas"]}}], "mark": {"type": "trail"}, "encoding": {"x": {"field": "t", "type": "quantitative", "scale": {"domain": [0.1524, 5.0571], "nice": false, "zero": false}, "axis": null}, "y": {"field": "row", "type": "nominal", "bandPosition": 0, "scale": {"domain": ["poc","insitu","dist","seas"], "range": [12.3, 448.7], "paddingInner": 0, "paddingOuter": 0}, "axis": null}, "yOffset": {"field": "m", "type": "quantitative", "scale": {"domain": [0, 1], "range": [88, 0]}}, "size": {"field": "w", "type": "quantitative", "scale": {"domain": [0, 1], "range": [0, 88]}, "legend": null}, "color": {"field": "row", "type": "nominal", "scale": {"domain": ["ice","mix","fw","prod","phyto","zoo","poc","insitu","dist","seas","hard","food","biomass","biot"], "range": ["#6d6e70","#6d6e70","#6d6e70","#2b2e8c","#2b2e8c","#2b2e8c","#1c6b3a","#1c6b3a","#1c6b3a","#1c6b3a","#9a6b42","#6a4216","#6a4216","#6a4216"]}, "legend": null}, "detail": {"field": "row"}, "order": {"field": "t", "type": "quantitative"}}},
{"data": {"name": "bands"}, "transform": [{"filter": {"field": "row", "oneOf": ["poc","insitu","dist","seas"]}}], "mark": {"type": "line", "color": "white", "strokeWidth": 26, "strokeDash": [1.9, 1.7], "strokeCap": "butt"}, "encoding": {"x": {"field": "t", "type": "quantitative", "scale": {"domain": [0.1524, 5.0571], "nice": false, "zero": false}, "axis": null}, "y": {"field": "row", "type": "nominal", "bandPosition": 0, "scale": {"domain": ["poc","insitu","dist","seas"], "range": [12.3, 448.7], "paddingInner": 0, "paddingOuter": 0}, "axis": null}, "yOffset": {"field": "m", "type": "quantitative", "scale": {"domain": [0, 1], "range": [88, 0]}}, "detail": {"field": "row"}, "order": {"field": "t", "type": "quantitative"}}},
{"data": {"name": "bands"}, "transform": [{"filter": {"field": "row", "oneOf": ["poc","insitu","dist","seas"]}}, {"joinaggregate": [{"op": "max", "field": "t", "as": "tmax"}], "groupby": ["row"]}, {"filter": "datum.t === datum.tmax"}], "mark": {"type": "point", "shape": "M0,-1H2V1H0Z", "size": 676, "filled": true, "color": "white", "opacity": 1, "strokeWidth": 0}, "encoding": {"x": {"field": "t", "type": "quantitative", "scale": {"domain": [0.1524, 5.0571], "nice": false, "zero": false}, "axis": null}, "y": {"field": "row", "type": "nominal", "bandPosition": 0, "scale": {"domain": ["poc","insitu","dist","seas"], "range": [12.3, 448.7], "paddingInner": 0, "paddingOuter": 0}, "axis": null}, "yOffset": {"field": "m", "type": "quantitative", "scale": {"domain": [0, 1], "range": [88, 0]}}}},
{"data": {"name": "curves"}, "transform": [{"filter": {"field": "row", "oneOf": ["poc","insitu","dist","seas"]}}], "mark": {"type": "line", "strokeWidth": 2.3, "interpolate": "monotone"}, "encoding": {"x": {"field": "t", "type": "quantitative", "scale": {"domain": [0.1524, 5.0571], "nice": false, "zero": false}, "axis": null}, "y": {"field": "row", "type": "nominal", "bandPosition": 0, "scale": {"domain": ["poc","insitu","dist","seas"], "range": [12.3, 448.7], "paddingInner": 0, "paddingOuter": 0}, "axis": null}, "yOffset": {"field": "v", "type": "quantitative", "scale": {"domain": [0, 1], "range": [88, 0]}}, "color": {"field": "row", "type": "nominal", "scale": {"domain": ["ice","mix","fw","prod","phyto","zoo","poc","insitu","dist","seas","hard","food","biomass","biot"], "range": ["#6d6e70","#6d6e70","#6d6e70","#2b2e8c","#2b2e8c","#2b2e8c","#1c6b3a","#1c6b3a","#1c6b3a","#1c6b3a","#9a6b42","#6a4216","#6a4216","#6a4216"]}, "legend": null}, "detail": {"field": "row"}, "order": {"field": "t", "type": "quantitative"}}},
{"data": {"name": "frame"}, "transform": [{"filter": {"field": "row", "oneOf": ["poc","insitu","dist","seas"]}}], "mark": {"type": "line", "color": "#231f20", "strokeWidth": 2.5}, "encoding": {"x": {"datum": 0.407, "type": "quantitative", "scale": {"domain": [0.1524, 5.0571], "nice": false, "zero": false}, "axis": null}, "y": {"field": "row", "type": "nominal", "bandPosition": 0, "scale": {"domain": ["poc","insitu","dist","seas"], "range": [12.3, 448.7], "paddingInner": 0, "paddingOuter": 0}, "axis": null}, "yOffset": {"field": "v", "type": "quantitative", "scale": {"domain": [0, 1], "range": [88, 0]}}, "detail": {"field": "row"}}},
{"data": {"name": "labels"}, "transform": [{"filter": {"field": "row", "oneOf": ["poc","insitu","dist","seas"]}}], "mark": {"type": "rule", "color": "#231f20", "strokeWidth": 4}, "encoding": {"x": {"datum": 0.40, "type": "quantitative", "scale": {"domain": [0.1524, 5.0571], "nice": false, "zero": false}, "axis": null}, "x2": {"datum": 4.983}, "y": {"field": "row", "type": "nominal", "bandPosition": 0, "scale": {"domain": ["poc","insitu","dist","seas"], "range": [12.3, 448.7], "paddingInner": 0, "paddingOuter": 0}, "axis": null}, "yOffset": {"datum": 0, "type": "quantitative", "scale": {"domain": [0, 1], "range": [88, 0]}}}},
{"data": {"name": "labels"}, "transform": [{"filter": {"field": "row", "oneOf": ["poc","insitu","dist","seas"]}}], "mark": {"type": "text", "align": "left", "baseline": "alphabetic", "fontSize": 24, "color": "#231f20"}, "encoding": {"x": {"datum": 0.45, "type": "quantitative", "scale": {"domain": [0.1524, 5.0571], "nice": false, "zero": false}, "axis": null}, "y": {"field": "row", "type": "nominal", "bandPosition": 0, "scale": {"domain": ["poc","insitu","dist","seas"], "range": [12.3, 448.7], "paddingInner": 0, "paddingOuter": 0}, "axis": null}, "yOffset": {"datum": 0.78, "type": "quantitative", "scale": {"domain": [0, 1], "range": [88, 0]}}, "text": {"field": "title"}}},
{"data": {"name": "labels"}, "transform": [{"filter": {"field": "row", "oneOf": ["poc","insitu","dist","seas"]}}], "mark": {"type": "text", "align": "right", "baseline": "alphabetic", "fontSize": 20.5, "color": "#231f20"}, "encoding": {"x": {"datum": 4.983, "type": "quantitative", "scale": {"domain": [0.1524, 5.0571], "nice": false, "zero": false}, "axis": null}, "y": {"field": "row", "type": "nominal", "bandPosition": 0, "scale": {"domain": ["poc","insitu","dist","seas"], "range": [12.3, 448.7], "paddingInner": 0, "paddingOuter": 0}, "axis": null}, "yOffset": {"datum": 0.818, "type": "quantitative", "scale": {"domain": [0, 1], "range": [88, 0]}}, "text": {"field": "hi"}}},
{"data": {"name": "labels"}, "transform": [{"filter": {"field": "row", "oneOf": ["poc","insitu","dist","seas"]}}], "mark": {"type": "text", "align": "right", "baseline": "alphabetic", "fontSize": 20.5, "color": "#231f20"}, "encoding": {"x": {"datum": 4.983, "type": "quantitative", "scale": {"domain": [0.1524, 5.0571], "nice": false, "zero": false}, "axis": null}, "y": {"field": "row", "type": "nominal", "bandPosition": 0, "scale": {"domain": ["poc","insitu","dist","seas"], "range": [12.3, 448.7], "paddingInner": 0, "paddingOuter": 0}, "axis": null}, "yOffset": {"datum": 0.10, "type": "quantitative", "scale": {"domain": [0, 1], "range": [88, 0]}}, "text": {"field": "lo"}}},
{"data": {"name": "sections"}, "transform": [{"filter": {"field": "row", "oneOf": ["poc","insitu","dist","seas"]}}], "mark": {"type": "text", "align": "center", "baseline": "middle", "angle": 270, "fontSize": 22.5, "font": "DejaVu Sans", "color": "#3a3a3a"}, "encoding": {"x": {"datum": 0.2714, "type": "quantitative", "scale": {"domain": [0.1524, 5.0571], "nice": false, "zero": false}, "axis": null}, "y": {"field": "row", "type": "nominal", "bandPosition": 0, "scale": {"domain": ["poc","insitu","dist","seas"], "range": [12.3, 448.7], "paddingInner": 0, "paddingOuter": 0}, "axis": null}, "yOffset": {"field": "v", "type": "quantitative", "scale": {"domain": [0, 1], "range": [88, 0]}}, "text": {"field": "section"}}}
]
},
{
"width": 1030, "height": 460,
"view": {"stroke": "#8b5a2b", "strokeWidth": 2},
"layer": [
{"data": {"name": "guides"}, "mark": {"type": "rule", "color": "#cbbfb3", "strokeWidth": 1.3, "strokeDash": [28, 26]}, "encoding": {"x": {"field": "t", "type": "quantitative", "scale": {"domain": [0.1524, 5.0571], "nice": false, "zero": false}, "axis": null}}},
{"data": {"name": "bands"}, "transform": [{"filter": {"field": "row", "oneOf": ["hard","food","biomass","biot"]}}], "mark": {"type": "trail"}, "encoding": {"x": {"field": "t", "type": "quantitative", "scale": {"domain": [0.1524, 5.0571], "nice": false, "zero": false}, "axis": null}, "y": {"field": "row", "type": "nominal", "bandPosition": 0, "scale": {"domain": ["hard","food","biomass","biot"], "range": [9.7, 448.5], "paddingInner": 0, "paddingOuter": 0}, "axis": null}, "yOffset": {"field": "m", "type": "quantitative", "scale": {"domain": [0, 1], "range": [88, 0]}}, "size": {"field": "w", "type": "quantitative", "scale": {"domain": [0, 1], "range": [0, 88]}, "legend": null}, "color": {"field": "row", "type": "nominal", "scale": {"domain": ["ice","mix","fw","prod","phyto","zoo","poc","insitu","dist","seas","hard","food","biomass","biot"], "range": ["#6d6e70","#6d6e70","#6d6e70","#2b2e8c","#2b2e8c","#2b2e8c","#1c6b3a","#1c6b3a","#1c6b3a","#1c6b3a","#9a6b42","#6a4216","#6a4216","#6a4216"]}, "legend": null}, "detail": {"field": "row"}, "order": {"field": "t", "type": "quantitative"}}},
{"data": {"name": "bands"}, "transform": [{"filter": {"field": "row", "oneOf": ["hard","food","biomass","biot"]}}], "mark": {"type": "line", "color": "white", "strokeWidth": 26, "strokeDash": [1.9, 1.7], "strokeCap": "butt"}, "encoding": {"x": {"field": "t", "type": "quantitative", "scale": {"domain": [0.1524, 5.0571], "nice": false, "zero": false}, "axis": null}, "y": {"field": "row", "type": "nominal", "bandPosition": 0, "scale": {"domain": ["hard","food","biomass","biot"], "range": [9.7, 448.5], "paddingInner": 0, "paddingOuter": 0}, "axis": null}, "yOffset": {"field": "m", "type": "quantitative", "scale": {"domain": [0, 1], "range": [88, 0]}}, "detail": {"field": "row"}, "order": {"field": "t", "type": "quantitative"}}},
{"data": {"name": "bands"}, "transform": [{"filter": {"field": "row", "oneOf": ["hard","food","biomass","biot"]}}, {"joinaggregate": [{"op": "max", "field": "t", "as": "tmax"}], "groupby": ["row"]}, {"filter": "datum.t === datum.tmax"}], "mark": {"type": "point", "shape": "M0,-1H2V1H0Z", "size": 676, "filled": true, "color": "white", "opacity": 1, "strokeWidth": 0}, "encoding": {"x": {"field": "t", "type": "quantitative", "scale": {"domain": [0.1524, 5.0571], "nice": false, "zero": false}, "axis": null}, "y": {"field": "row", "type": "nominal", "bandPosition": 0, "scale": {"domain": ["hard","food","biomass","biot"], "range": [9.7, 448.5], "paddingInner": 0, "paddingOuter": 0}, "axis": null}, "yOffset": {"field": "m", "type": "quantitative", "scale": {"domain": [0, 1], "range": [88, 0]}}}},
{"data": {"name": "curves"}, "transform": [{"filter": {"field": "row", "oneOf": ["hard","food","biomass","biot"]}}], "mark": {"type": "line", "strokeWidth": 2.3, "interpolate": "monotone"}, "encoding": {"x": {"field": "t", "type": "quantitative", "scale": {"domain": [0.1524, 5.0571], "nice": false, "zero": false}, "axis": null}, "y": {"field": "row", "type": "nominal", "bandPosition": 0, "scale": {"domain": ["hard","food","biomass","biot"], "range": [9.7, 448.5], "paddingInner": 0, "paddingOuter": 0}, "axis": null}, "yOffset": {"field": "v", "type": "quantitative", "scale": {"domain": [0, 1], "range": [88, 0]}}, "color": {"field": "row", "type": "nominal", "scale": {"domain": ["ice","mix","fw","prod","phyto","zoo","poc","insitu","dist","seas","hard","food","biomass","biot"], "range": ["#6d6e70","#6d6e70","#6d6e70","#2b2e8c","#2b2e8c","#2b2e8c","#1c6b3a","#1c6b3a","#1c6b3a","#1c6b3a","#9a6b42","#6a4216","#6a4216","#6a4216"]}, "legend": null}, "detail": {"field": "row"}, "order": {"field": "t", "type": "quantitative"}}},
{"data": {"name": "frame"}, "transform": [{"filter": {"field": "row", "oneOf": ["hard","food","biomass","biot"]}}], "mark": {"type": "line", "color": "#231f20", "strokeWidth": 2.5}, "encoding": {"x": {"datum": 0.407, "type": "quantitative", "scale": {"domain": [0.1524, 5.0571], "nice": false, "zero": false}, "axis": null}, "y": {"field": "row", "type": "nominal", "bandPosition": 0, "scale": {"domain": ["hard","food","biomass","biot"], "range": [9.7, 448.5], "paddingInner": 0, "paddingOuter": 0}, "axis": null}, "yOffset": {"field": "v", "type": "quantitative", "scale": {"domain": [0, 1], "range": [88, 0]}}, "detail": {"field": "row"}}},
{"data": {"name": "labels"}, "transform": [{"filter": {"field": "row", "oneOf": ["hard","food","biomass","biot"]}}], "mark": {"type": "rule", "color": "#231f20", "strokeWidth": 4}, "encoding": {"x": {"datum": 0.40, "type": "quantitative", "scale": {"domain": [0.1524, 5.0571], "nice": false, "zero": false}, "axis": null}, "x2": {"datum": 4.983}, "y": {"field": "row", "type": "nominal", "bandPosition": 0, "scale": {"domain": ["hard","food","biomass","biot"], "range": [9.7, 448.5], "paddingInner": 0, "paddingOuter": 0}, "axis": null}, "yOffset": {"datum": 0, "type": "quantitative", "scale": {"domain": [0, 1], "range": [88, 0]}}}},
{"data": {"name": "labels"}, "transform": [{"filter": {"field": "row", "oneOf": ["hard","food","biomass","biot"]}}], "mark": {"type": "text", "align": "left", "baseline": "alphabetic", "fontSize": 24, "color": "#231f20"}, "encoding": {"x": {"datum": 0.45, "type": "quantitative", "scale": {"domain": [0.1524, 5.0571], "nice": false, "zero": false}, "axis": null}, "y": {"field": "row", "type": "nominal", "bandPosition": 0, "scale": {"domain": ["hard","food","biomass","biot"], "range": [9.7, 448.5], "paddingInner": 0, "paddingOuter": 0}, "axis": null}, "yOffset": {"datum": 0.78, "type": "quantitative", "scale": {"domain": [0, 1], "range": [88, 0]}}, "text": {"field": "title"}}},
{"data": {"name": "labels"}, "transform": [{"filter": {"field": "row", "oneOf": ["hard","food","biomass","biot"]}}], "mark": {"type": "text", "align": "right", "baseline": "alphabetic", "fontSize": 20.5, "color": "#6b4a1f"}, "encoding": {"x": {"datum": 4.983, "type": "quantitative", "scale": {"domain": [0.1524, 5.0571], "nice": false, "zero": false}, "axis": null}, "y": {"field": "row", "type": "nominal", "bandPosition": 0, "scale": {"domain": ["hard","food","biomass","biot"], "range": [9.7, 448.5], "paddingInner": 0, "paddingOuter": 0}, "axis": null}, "yOffset": {"datum": 0.818, "type": "quantitative", "scale": {"domain": [0, 1], "range": [88, 0]}}, "text": {"field": "hi"}}},
{"data": {"name": "labels"}, "transform": [{"filter": {"field": "row", "oneOf": ["hard","food","biomass","biot"]}}], "mark": {"type": "text", "align": "right", "baseline": "alphabetic", "fontSize": 20.5, "color": "#6b4a1f"}, "encoding": {"x": {"datum": 4.983, "type": "quantitative", "scale": {"domain": [0.1524, 5.0571], "nice": false, "zero": false}, "axis": null}, "y": {"field": "row", "type": "nominal", "bandPosition": 0, "scale": {"domain": ["hard","food","biomass","biot"], "range": [9.7, 448.5], "paddingInner": 0, "paddingOuter": 0}, "axis": null}, "yOffset": {"datum": 0.10, "type": "quantitative", "scale": {"domain": [0, 1], "range": [88, 0]}}, "text": {"field": "lo"}}},
{"data": {"name": "sections"}, "transform": [{"filter": {"field": "row", "oneOf": ["hard","food","biomass","biot"]}}], "mark": {"type": "text", "align": "center", "baseline": "middle", "angle": 270, "fontSize": 22.5, "font": "DejaVu Sans", "color": "#3a3a3a"}, "encoding": {"x": {"datum": 0.2714, "type": "quantitative", "scale": {"domain": [0.1524, 5.0571], "nice": false, "zero": false}, "axis": null}, "y": {"field": "row", "type": "nominal", "bandPosition": 0, "scale": {"domain": ["hard","food","biomass","biot"], "range": [9.7, 448.5], "paddingInner": 0, "paddingOuter": 0}, "axis": null}, "yOffset": {"field": "v", "type": "quantitative", "scale": {"domain": [0, 1], "range": [88, 0]}}, "text": {"field": "section"}}}
]
}
]
}
